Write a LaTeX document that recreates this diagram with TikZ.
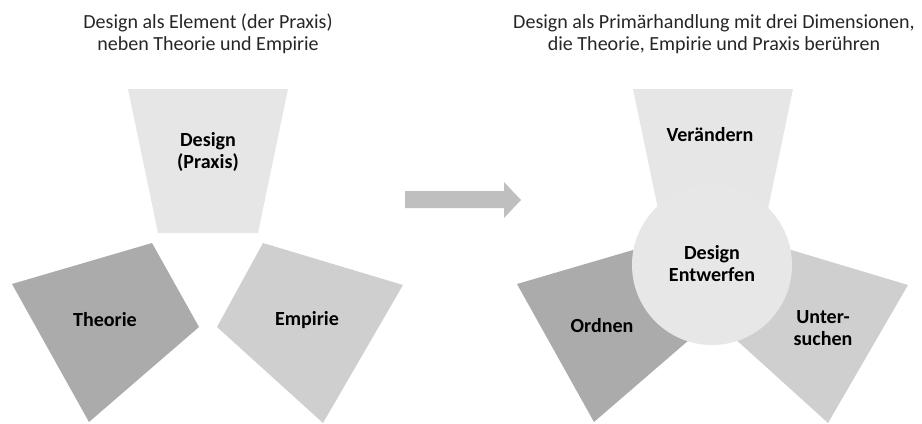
\documentclass[tikz,border=0pt]{standalone}
\usepackage{fontspec}
\setmainfont{Carlito}
\definecolor{palegray}{HTML}{E6E6E6}
\definecolor{darkgray}{HTML}{ABABAB}
\definecolor{midgray}{HTML}{CFCFCF}
\definecolor{arrowgray}{HTML}{BFBFBF}
\definecolor{txtgray}{HTML}{262626}
\tikzset{ttl/.style={align=center, text=txtgray, font=\fontsize{11.4}{12.5}\selectfont},
  lbl/.style={align=center, text=black, font=\fontsize{11.4}{12.5}\selectfont\bfseries}}

\begin{document}
\begin{tikzpicture}[x=0.02cm, y=-0.02cm]
  \useasboundingbox (0,0) rectangle (922,423);
  % left: design as one element of three
  \node[ttl] (ttlleft) at (208,34) {Design als Element (der Praxis)\\neben Theorie und Empirie};
  \fill[palegray] (128,89) -- (288,89) -- (258,233) -- (158,233) -- cycle;
  \fill[darkgray] (12,284) -- (152,243) -- (199,327) -- (89,422) -- cycle;
  \fill[midgray] (263,243) -- (403,285) -- (323,423) -- (217,327) -- cycle;
  \node[lbl] (praxis) at (208,152) {Design\\(Praxis)};
  \node[lbl] (theorie) at (105,320) {Theorie};
  \node[lbl] (empirie) at (307,320) {Empirie};

  % transition
  \fill[arrowgray] (405,191) -- (504,191) -- (504,182) -- (521,200)
    -- (504,218) -- (504,208) -- (405,208) -- cycle;

  % right: design as primary action
  \node[ttl] (ttlright) at (714,34) {Design als Primärhandlung mit drei Dimensionen,\\die Theorie, Empirie und Praxis berühren};
  \begin{scope}[shift={(505,0)}]
    \fill[darkgray] (12,284) -- (152,243) -- (199,327) -- (89,422) -- cycle;
    \fill[midgray] (263,243) -- (403,285) -- (323,423) -- (217,327) -- cycle;
    \fill[palegray] (128,89) -- (288,89) -- (258,233) -- (158,233) -- cycle;
  \end{scope}
  \fill[palegray!95!white] (712,265) circle (80);
  \node[lbl] (veraendern) at (710,135) {Verändern};
  \node[lbl] (entwerfen) at (712,264) {Design\\Entwerfen};
  \node[lbl] (ordnen) at (602,326) {Ordnen};
  \node[lbl] (untersuchen) at (823,328) {Unter-\\suchen};
\end{tikzpicture}
\end{document}
